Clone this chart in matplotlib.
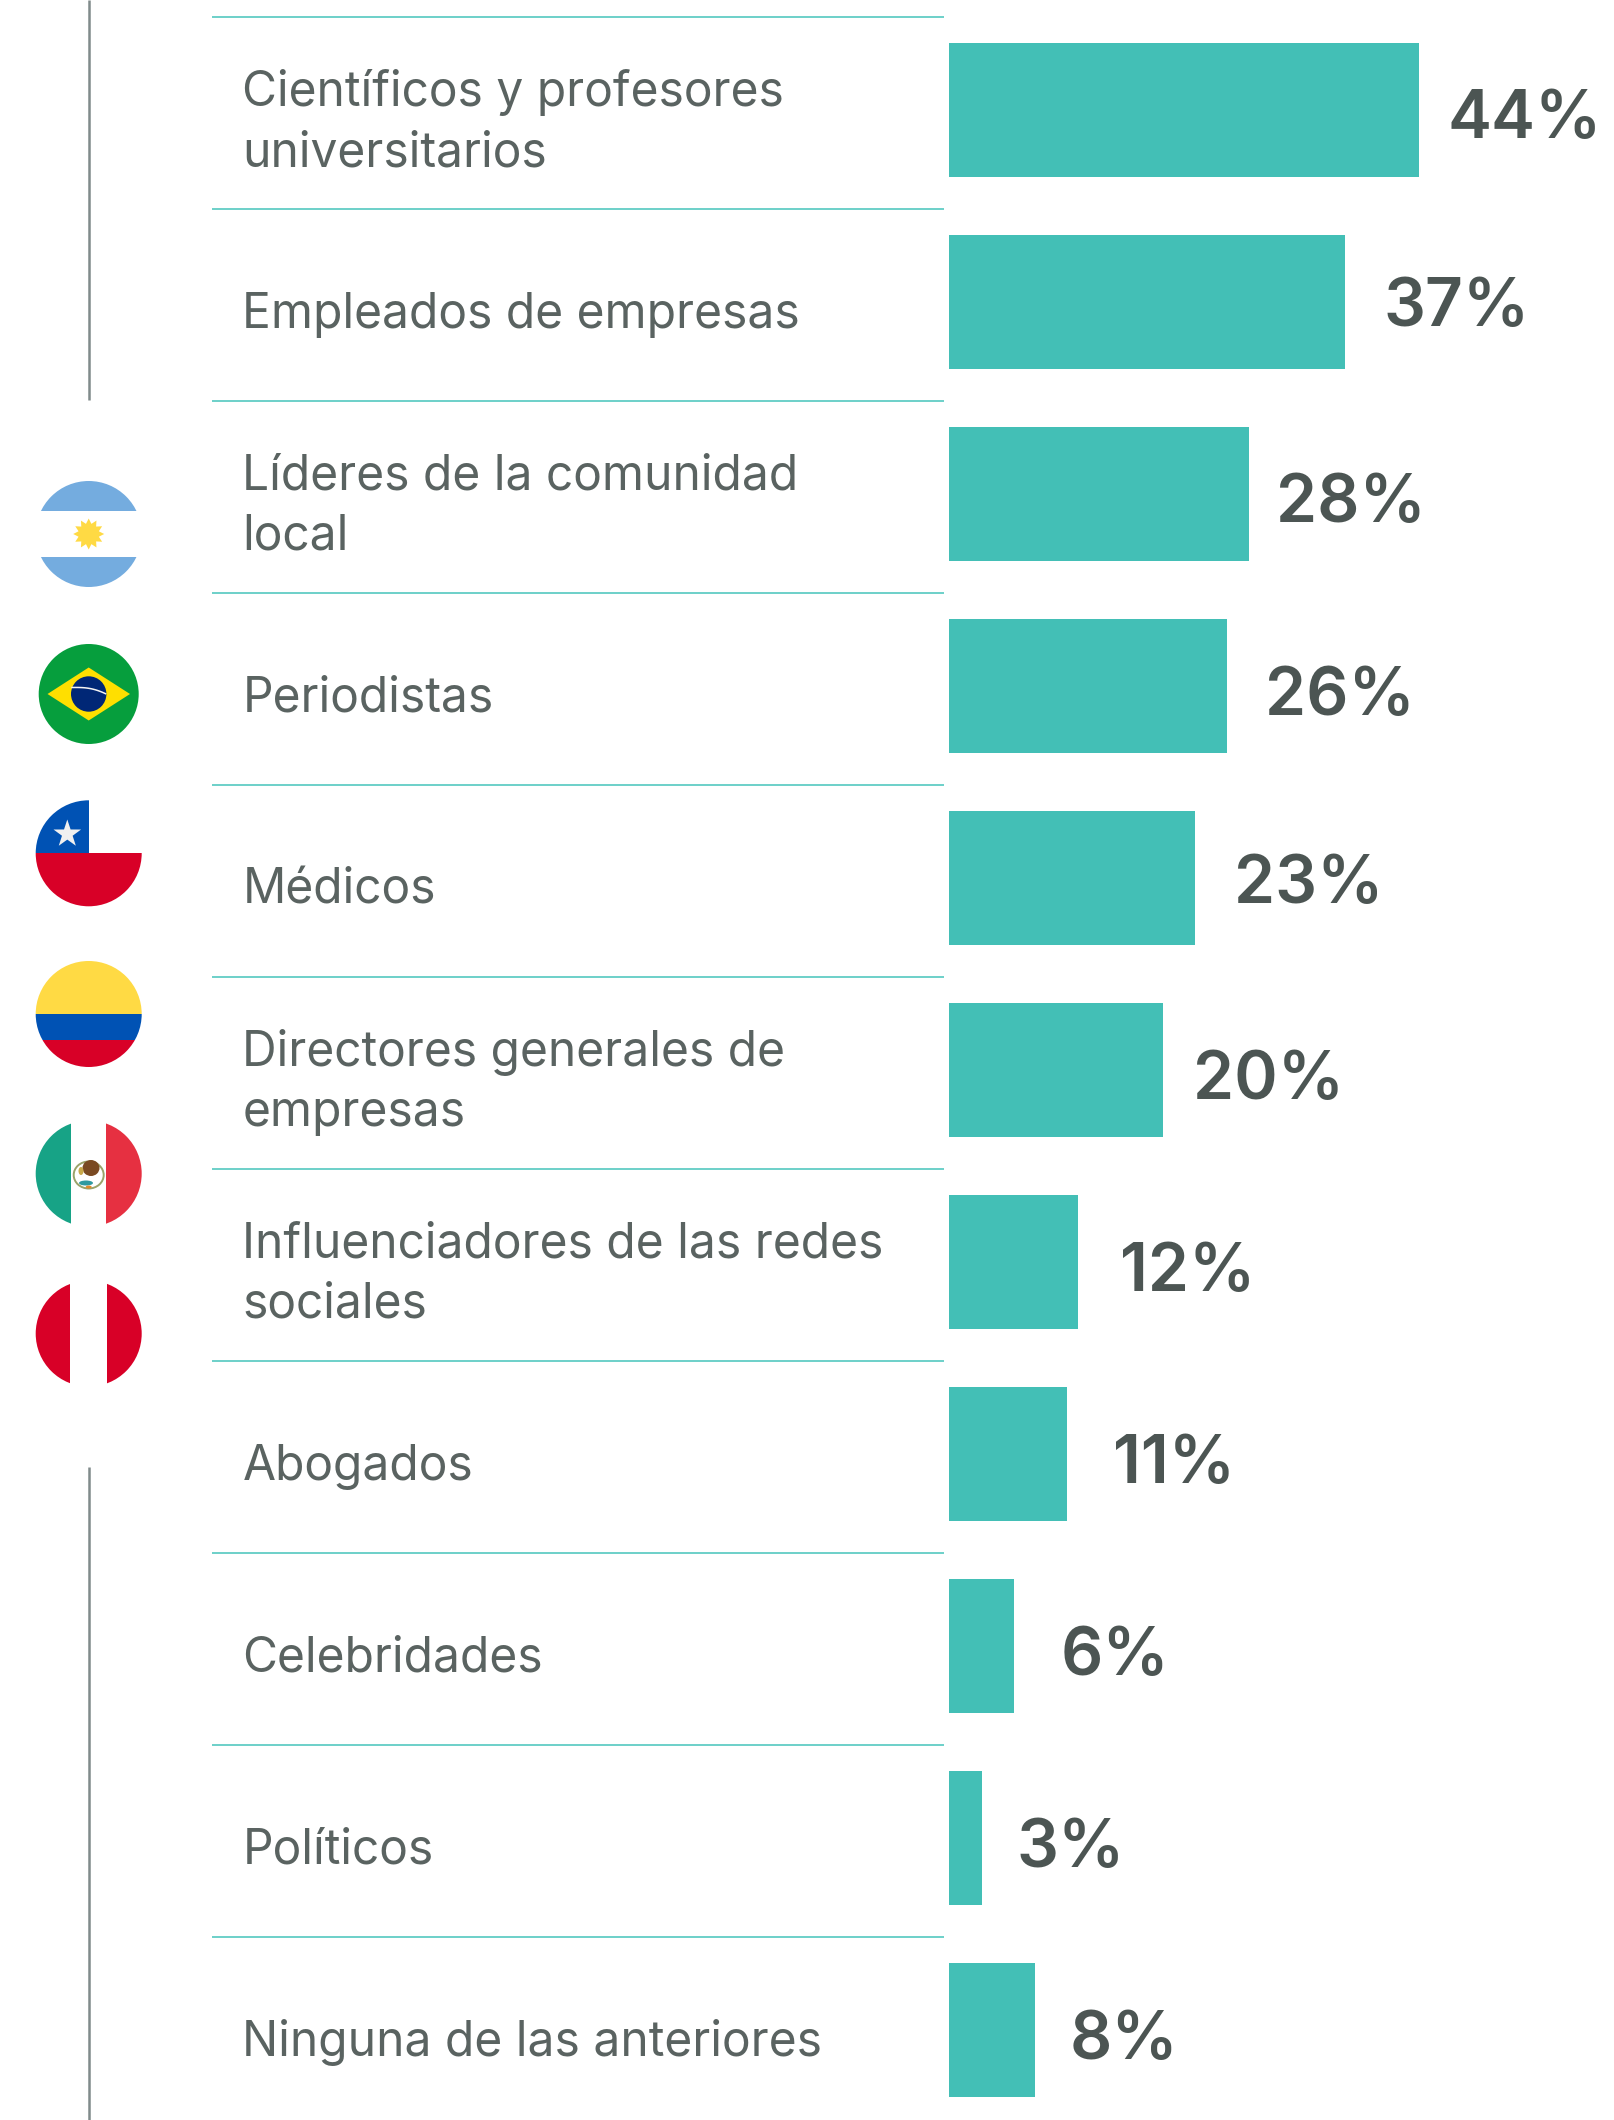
import numpy as np
import matplotlib
matplotlib.use("Agg")
import matplotlib.pyplot as plt
from matplotlib.patches import Ellipse, Polygon, Rectangle, Circle

categories = [
    "Científicos y profesores\nuniversitarios",
    "Empleados de empresas",
    "Líderes de la comunidad\nlocal",
    "Periodistas",
    "Médicos",
    "Directores generales de\nempresas",
    "Influenciadores de las redes\nsociales",
    "Abogados",
    "Celebridades",
    "Políticos",
    "Ninguna de las anteriores",
]
values = [44, 37, 28, 26, 23, 20, 12, 11, 6, 3, 8]

# where each percent label starts and how far it sits under the bar centre, px
label_gap = [28, 39, 27, 38, 39, 30, 42, 46, 47, 35, 35]
label_dy = [11, 7, 11, 11, 8, 11, 11, 11, 11, 11, 11]

W, H = 1615, 2120
TEAL = "#43bfb6"
LINE = "#45c4ba"
GREY = "#5a6361"
DARK = "#4c5553"
FONT = "Inter"

BAR_LEFT = 949.5
PX_PER_PCT = 10.68
ROW_H = 192
FIRST_ROW = 110

fig = plt.figure(figsize=(W / 100, H / 100), dpi=100, facecolor="white")

# overlay in pixel coords for the flags and rules
bg = fig.add_axes([0, 0, 1, 1])
bg.set_xlim(0, W)
bg.set_ylim(H, 0)
bg.axis("off")

ax = fig.add_axes([BAR_LEFT / W, 0, 1 - BAR_LEFT / W, 1])
ax.patch.set_alpha(0)
ax.set_xlim(0, (W - BAR_LEFT) / PX_PER_PCT)
ax.set_ylim((H - FIRST_ROW) / ROW_H, -FIRST_ROW / ROW_H)
ax.axis("off")

y = np.arange(len(values))
ax.barh(y, values, height=134 / ROW_H, color=TEAL, linewidth=0)

for i, v in enumerate(values):
    ax.annotate("%d%%" % v, (v, i), xytext=(label_gap[i] * 0.72, -label_dy[i] * 0.72),
                textcoords="offset points", va="center", ha="left",
                fontsize=47.5, fontweight="semibold", family=FONT, color=DARK)

# row rules and category names
for i, name in enumerate(categories):
    ry = FIRST_ROW + i * ROW_H
    bg.plot([212, 944], [ry - 93.5, ry - 93.5], color=LINE, lw=1.1, solid_capstyle="butt")
    bg.text(242.5, ry + 12.5, name, fontsize=34.5, family=FONT, color=GREY,
            va="center", ha="left", linespacing=1.4)

# vertical rule broken by the flags
bg.plot([88.7, 88.7], [0, 400], color="#808b8b", lw=1.8, solid_capstyle="butt")
bg.plot([88.7, 88.7], [1467, H], color="#808b8b", lw=1.8, solid_capstyle="butt")


def clipped(patch, clip):
    bg.add_patch(patch)
    patch.set_clip_path(clip)


def disc(cy, r):
    c = Circle((88.7, cy), r, fc="none", ec="none", transform=bg.transData)
    bg.add_patch(c)
    return c


def band(clip, x0, y0, x1, y1, color):
    clipped(Rectangle((x0, y0), x1 - x0, y1 - y0, fc=color, ec="none"), clip)


def star(cx, cy, r_out, r_in, n, color, rot=-90):
    a = np.radians(rot + np.arange(2 * n) * 180 / n)
    r = np.where(np.arange(2 * n) % 2 == 0, r_out, r_in)
    bg.add_patch(Polygon(np.c_[cx + r * np.cos(a), cy + r * np.sin(a)], fc=color, ec="none"))


# Argentina
c = disc(534, 53)
band(c, 30, 470, 150, 511, "#74acdf")
band(c, 30, 557, 150, 600, "#74acdf")
star(88.7, 534, 15.5, 10.5, 12, "#ffda44")

# Brazil
c = disc(694, 50)
band(c, 30, 640, 150, 750, "#069e3d")
bg.add_patch(Polygon([[47.5, 694], [88.7, 667.5], [130, 694], [88.7, 720.5]], fc="#ffdf00", ec="none"))
bg.add_patch(Circle((88.7, 694), 17.7, fc="#002776", ec="none"))
t = np.linspace(0, 1, 20)
bg.plot(72 + 33.5 * t, 687.5 - 4 * np.sin(np.pi * t * 0.75) + 9 * t, color="#f4f4f4", lw=1.1)

# Chile
c = disc(853.3, 53)
band(c, 30, 795, 88.7, 853.3, "#0052b4")
band(c, 30, 853.3, 150, 910, "#d80027")
star(67.3, 834, 14.5, 5.6, 5, "#f0f0f0")

# Colombia
c = disc(1014, 53)
band(c, 30, 955, 150, 1014, "#ffda44")
band(c, 30, 1014, 150, 1040.4, "#0052b4")
band(c, 30, 1040.4, 150, 1072, "#d80027")

# Mexico
c = disc(1173.6, 53)
band(c, 30, 1115, 71, 1232, "#17a386")
band(c, 106, 1115, 150, 1232, "#e63041")
bg.add_patch(Ellipse((88.7, 1175), 30, 27, fc="none", ec="#9aa36a", lw=1.4))
bg.add_patch(Ellipse((91, 1168), 17, 16, fc="#7a4a22", ec="none"))
bg.add_patch(Ellipse((86, 1183), 14, 5, fc="#2f9aa0", ec="none"))
bg.add_patch(Ellipse((88.7, 1187), 6, 3, fc="#e08a2c", ec="none"))
bg.add_patch(Ellipse((81, 1171), 5, 8, fc="#c9a94a", ec="none"))

# Peru
c = disc(1333.6, 53)
band(c, 30, 1275, 70.5, 1392, "#d80027")
band(c, 107, 1275, 150, 1392, "#d80027")

fig.savefig("out.png", dpi=100, facecolor="white")
